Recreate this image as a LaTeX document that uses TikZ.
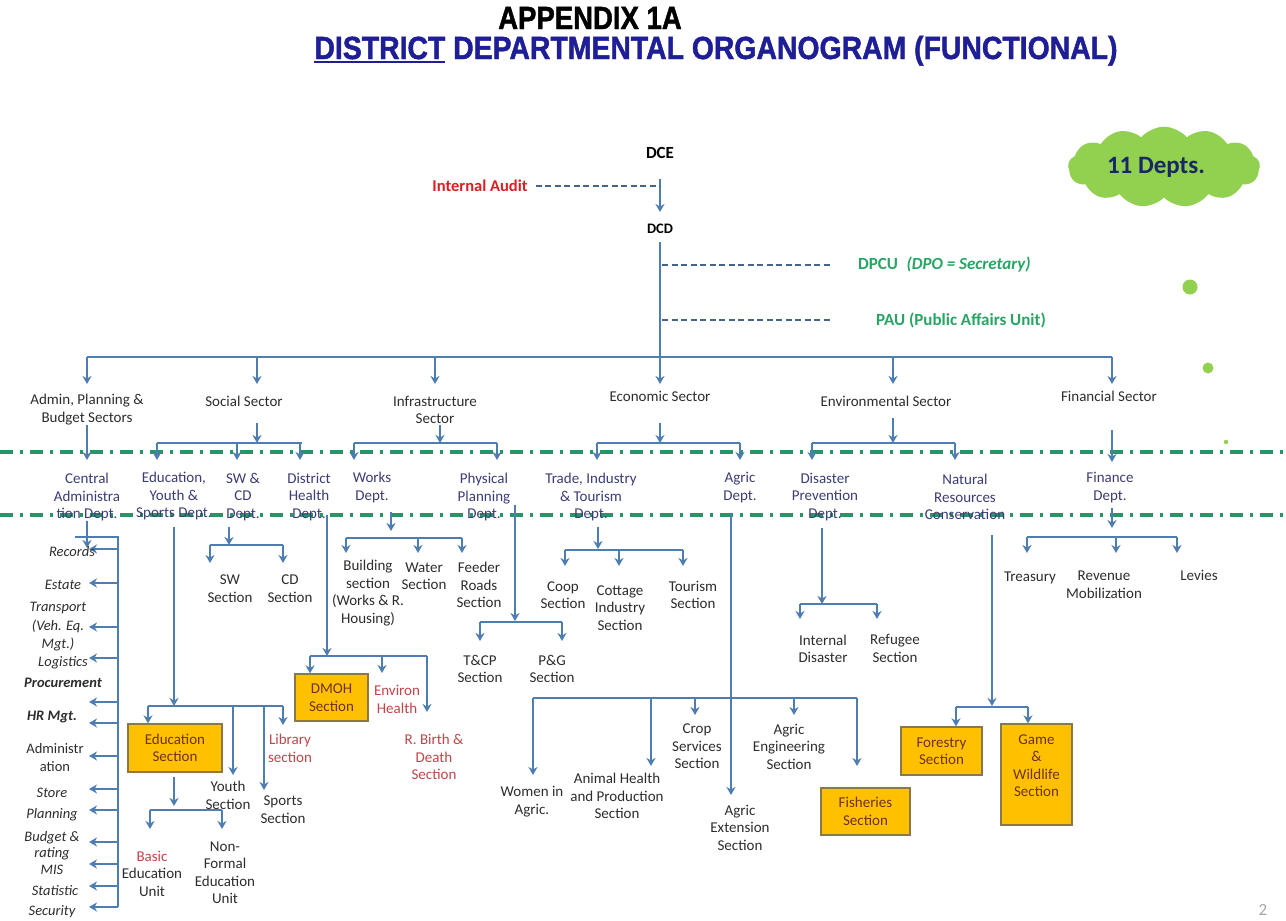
\documentclass[tikz,border=0pt]{standalone}
\usepackage{fontspec}
\usepackage{graphicx}
\setmainfont{Carlito}
\newfontfamily\titlefont[BoldFeatures={FakeBold=1.5}]{Liberation Sans}
\usetikzlibrary{arrows.meta,shapes.symbols}
\definecolor{conn}{RGB}{78,125,178}
\definecolor{dashc}{RGB}{70,100,135}
\definecolor{sepc}{RGB}{38,150,105}
\definecolor{txt}{RGB}{45,45,45}
\definecolor{deptc}{RGB}{60,60,120}
\definecolor{redc}{RGB}{192,70,75}
\definecolor{iared}{RGB}{220,30,35}
\definecolor{grn}{RGB}{40,165,100}
\definecolor{boxf}{RGB}{255,192,0}
\definecolor{boxb}{RGB}{140,120,70}
\definecolor{boxt}{RGB}{110,50,20}
\definecolor{titleblue}{RGB}{30,30,150}
\definecolor{cloudg}{RGB}{146,208,80}
\definecolor{cloudt}{RGB}{25,40,100}
\newcommand\thickul[1]{\vtop{\hbox{#1}\kern1.5pt\hrule height 2.4pt}}
\begin{document}
\begin{tikzpicture}[x=1pt,y=-1pt,
  lbl/.style={align=center, inner sep=0pt, font=\fontsize{15}{17.5}\selectfont, text=txt},
  dept/.style={lbl, text=deptc},
  redl/.style={lbl, text=redc},
  obox/.style={lbl, draw=boxb, fill=boxf, text=boxt, line width=1.3pt},
  lst/.style={lbl, font=\fontsize{14.5}{18.5}\selectfont\itshape},
  lstb/.style={lbl, font=\fontsize{14.5}{18.5}\selectfont\bfseries\itshape},
  lstu/.style={lbl, font=\fontsize{14.5}{18.5}\selectfont},
  cline/.style={draw=conn, line width=1.6pt},
  arr/.style={cline, -{Stealth[length=8pt,width=9pt,inset=2.5pt]}},
  dsh/.style={draw=dashc, line width=2pt, dash pattern=on 6pt off 3.5pt},
  sepl/.style={draw=sepc, line width=3.5pt, dash pattern=on 13pt off 7pt on 3pt off 7pt},
  ttl/.style={inner sep=0pt, anchor=base, font=\titlefont\bfseries\fontsize{32}{32}\selectfont},
  grnt/.style={inner sep=0pt, anchor=west, text=grn, font=\bfseries\fontsize{17}{17}\selectfont}
]
\fill[white] (0,0) rectangle (1286,921);
\useasboundingbox (0,0) rectangle (1286,921);

% ---------- title ----------
\node[ttl] (t1) at (590,29) {\scalebox{0.86}[1]{APPENDIX 1A}};
\node[ttl, text=titleblue] (t2) at (716,59) {\scalebox{0.887}[1]{\thickul{DISTRICT} DEPARTMENTAL ORGANOGRAM (FUNCTIONAL)}};

% ---------- separators ----------
\draw[sepl] (0,452) -- (1286,452);
\draw[sepl] (0,515) -- (1286,515);

% ---------- cloud and dots ----------
\node[cloud, cloud puffs=13, cloud puff arc=100, aspect=2.5, fill=cloudg, inner sep=0pt,
      minimum width=192pt, minimum height=78pt] (cloud) at (1164,167)
      {\textcolor{cloudt}{\bfseries\fontsize{25}{25}\selectfont 11 Depts.}\hspace*{16pt}};
\fill[cloudg] (1190,287) circle (7.5pt);
\fill[cloudg] (1208,368) circle (5.5pt);
\fill[cloudg] (1226,442) circle (2.2pt);
\node[text=black!35, font=\fontsize{17}{17}\selectfont, inner sep=0pt] (pg) at (1263,910) {2};

% ---------- top ----------
\node[font=\bfseries\fontsize{17}{17}\selectfont, inner sep=0pt] (dce) at (660,153) {DCE};
\node[font=\bfseries\fontsize{16.5}{17}\selectfont, text=iared, inner sep=0pt] (ia) at (480,186) {Internal Audit};
\node[font=\bfseries\fontsize{14.5}{17}\selectfont, inner sep=0pt] (dcd) at (660,229) {DCD};
\node[grnt] (dpcu) at (858,265) {DPCU\enspace\textit{(DPO = Secretary)}};
\node[grnt] (pau) at (876,320) {PAU (Public Affairs Unit)};
\coordinate (iaJ) at (660,186);
\coordinate (dpJ) at (662,265);
\coordinate (paJ) at (662,320);
\coordinate (b1M) at (660,357);
\coordinate (b1L) at (87,357);
\coordinate (b1R) at (1112,357);
\draw[arr, shorten <=20pt, shorten >=12pt] (dce) -- (dcd);
\draw[dsh, shorten <=8pt] (ia) -- (iaJ);
\draw[cline, shorten <=8pt] (dcd) -- (b1M);
\draw[dsh, shorten >=25pt] (dpJ) -- (dpcu.west);
\draw[dsh, shorten >=43pt] (paJ) -- (pau.west);
\draw[cline] (b1L) -- (b1R);

% ---------- sectors ----------
\node[lbl] (admin) at (87,409.5) {Admin, Planning \&\\Budget Sectors};
\node[lbl] (social) at (244,401) {Social Sector};
\node[lbl] (infra) at (435,410) {Infrastructure\\Sector};
\node[lbl] (econ) at (660,396) {Economic Sector};
\node[lbl] (env) at (886,401) {Environmental Sector};
\node[lbl] (fin) at (1109,396) {Financial Sector};
\foreach \x in {87,257,435,660,893,1112} \draw[arr] (b1L -| \x,0) -- (\x,384);

% ---------- departments ----------
\node[dept] (cad) at (87,497) {Central\\Administra\\tion Dept.};
\node[dept] (eys) at (174,496) {Education,\\Youth \&\\Sports Dept.};
\node[dept] (swcd) at (243,497) {SW \&\\CD\\Dept.};
\node[dept] (dhd) at (309,497) {District\\Health\\Dept.};
\node[dept] (works) at (372,487.5) {Works\\Dept.};
\node[dept] (ppd) at (484,497) {Physical\\Planning\\Dept.};
\node[dept] (tit) at (591,497) {Trade, Industry\\\& Tourism\\Dept.};
\node[dept] (agd) at (740,487.5) {Agric\\Dept.};
\node[dept] (dpd) at (825,497) {Disaster\\Prevention\\Dept.};
\node[dept] (nrc) at (965,497) {Natural\\Resources\\Conservation};
\node[dept] (find) at (1110,487.5) {Finance\\Dept.};

% sector -> department connectors
\draw[arr] (admin) -- (87,460);
\coordinate (soL) at (157,443); \coordinate (soR) at (302,443);
\draw[arr] (257,423) -- (257,443);
\draw[cline] (soL) -- (soR);
\foreach \x in {157,237,300} \draw[arr] (soL -| \x,0) -- (\x,460);
\coordinate (inL) at (354,443); \coordinate (inR) at (497,443);
\draw[arr] (440,425) -- (440,443);
\draw[cline] (inL) -- (inR);
\foreach \x in {354,497} \draw[arr] (inL -| \x,0) -- (\x,460);
\coordinate (ecL) at (597,443); \coordinate (ecR) at (740,443);
\draw[arr] (660,423) -- (660,443);
\draw[cline] (ecL) -- (ecR);
\foreach \x in {597,740} \draw[arr] (ecL -| \x,0) -- (\x,460);
\coordinate (enL) at (812,443); \coordinate (enR) at (955,443);
\draw[arr] (893,418) -- (893,443);
\draw[cline] (enL) -- (enR);
\foreach \x in {812,955} \draw[arr] (enL -| \x,0) -- (\x,460);
\draw[arr] (1112,430) -- (1112,462);

% ---------- central administration list ----------
\coordinate (caL) at (75,537); \coordinate (caR) at (118,537); \coordinate (caB) at (118,907);
\draw[cline] (caL) -- (caR) -- (caB);
\draw[arr] (cad) -- (87,548);
\foreach \y in {549,583,627,658,702,723,756,789,810,842,864,886,907} \draw[arr] (caR |- 0,\y) -- (89,\y);
\node[lst] (recs) at (72,552) {Records};
\node[lst] (estate) at (63,585) {Estate};
\node[lst] (transp) at (58,627) {Transport\\(Veh. Eq.\\Mgt.)};
\node[lst] (logis) at (63,663) {Logistics};
\node[lstb] (procu) at (63,683) {Procurement};
\node[lstb] (hrm) at (52,717) {HR Mgt.};
\node[lstu] (admn) at (55,757.5) {Administr\\ation};
\node[lst] (store) at (52,793) {Store};
\node[lst] (plann) at (52,815) {Planning};
\node[lst, font=\fontsize{14.5}{16.5}\selectfont\itshape] (budg) at (52,853) {Budget \&\\rating\\MIS};
\node[lst] (stat) at (55,891) {Statistic};
\node[lst] (secu) at (52,912) {Security};

% ---------- education ----------
\node[obox, minimum width=94pt, minimum height=48pt] (edu) at (175,748) {Education\\Section};
\node[redl] (lib) at (290,748.5) {Library\\section};
\node[lbl] (youth) at (228,795.5) {Youth\\Section};
\node[lbl] (sports) at (283,809.5) {Sports\\Section};
\node[lbl] (basic) at (152,873.5) {\textcolor{redc}{Basic}\\Education\\Unit};
\node[lbl] (nfe) at (225,872.5) {Non-\\Formal\\Education\\Unit};
\coordinate (edJ) at (174,706); \coordinate (edL) at (148,706); \coordinate (edR) at (283,706);
\draw[arr] (174,527) -- (edJ);
\draw[cline] (edL) -- (edR);
\draw[arr] (edL) -- (edL |- edu.north);
\draw[arr] (edR) -- (283,725);
\draw[arr] (edL -| 264,0) -- (264,790);
\draw[arr] (edL -| 233,0) -- (233,775);
\coordinate (ebL) at (150,810); \coordinate (ebR) at (222,810);
\draw[arr] (174,777) -- (174,806);
\draw[cline] (ebL) -- (ebR);
\draw[arr] (ebL) -- (150,829);
\draw[arr] (ebR) -- (222,829);

% ---------- SW & CD ----------
\node[lbl] (sws) at (230,588.5) {SW\\Section};
\node[lbl] (cds) at (290,588.5) {CD\\Section};
\coordinate (swL) at (210,545); \coordinate (swR) at (283,545);
\draw[arr] (229,527) -- (229,545);
\draw[cline] (swL) -- (swR);
\draw[arr] (swL) -- (210,563);
\draw[arr] (swR) -- (283,563);

% ---------- district health ----------
\node[obox, minimum width=73pt, minimum height=47pt] (dmoh) at (331.5,697.5) {DMOH\\Section};
\node[redl] (envh) at (397,699.5) {Environ\\Health};
\node[redl] (rbd) at (434,757) {R. Birth \&\\Death\\Section};
\coordinate (dhL) at (310,656); \coordinate (dhR) at (427,656);
\draw[arr] (327,515) -- (327,656);
\draw[cline] (dhL) -- (dhR);
\draw[arr] (dhL) -- (dhL |- dmoh.north);
\draw[arr] (dhL -| 382,0) -- (382,673);
\draw[arr] (dhR) -- (427,712);

% ---------- works ----------
\node[lbl] (bld) at (368,593) {Building\\section\\(Works \& R.\\Housing)};
\node[lbl] (wat) at (424,576) {Water\\Section};
\node[lbl] (frs) at (479,585) {Feeder\\Roads\\Section};
\coordinate (wkL) at (346,538); \coordinate (wkR) at (462,538);
\draw[arr] (391,512) -- (391,531);
\draw[cline] (wkL) -- (wkR);
\foreach \x in {346,418,462} \draw[arr] (wkL -| \x,0) -- (\x,553);

% ---------- physical planning ----------
\node[lbl] (tcp) at (480,669) {T\&CP\\Section};
\node[lbl] (pgs) at (552,669) {P\&G\\Section};
\coordinate (ppL) at (480,622); \coordinate (ppR) at (562,622);
\draw[arr] (515,505) -- (515,621);
\draw[cline] (ppL) -- (ppR);
\draw[arr] (ppL) -- (480,641);
\draw[arr] (ppR) -- (562,641);

% ---------- trade ----------
\node[lbl] (coop) at (563,595) {Coop\\Section};
\node[lbl] (cott) at (620,608) {Cottage\\Industry\\Section};
\node[lbl] (tour) at (693,595) {Tourism\\Section};
\coordinate (trL) at (565,550); \coordinate (trR) at (683,550);
\draw[arr] (598,527) -- (598,549);
\draw[cline] (trL) -- (trR);
\foreach \x in {565,619,683} \draw[arr] (trL -| \x,0) -- (\x,566);

% ---------- agric ----------
\node[lbl] (wom) at (532,801.5) {Women in\\Agric.};
\node[lbl] (ahp) at (617,796) {Animal Health\\and Production\\Section};
\node[lbl] (crop) at (697,746.5) {Crop\\Services\\Section};
\node[lbl] (aeng) at (789,746.5) {Agric\\Engineering\\Section};
\node[lbl] (aext) at (740,827.5) {Agric\\Extension\\Section};
\node[obox, minimum width=89pt, minimum height=47pt] (fish) at (865.5,811.5) {Fisheries\\Section};
\coordinate (agL) at (533,698); \coordinate (agR) at (857,698);
\draw[arr] (731,513) -- (731,795);
\draw[cline] (agL) -- (agR);
\draw[arr] (agL) -- (533,775);
\draw[arr] (agL -| 651,0) -- (651,766);
\draw[arr] (agL -| 695,0) -- (695,715);
\draw[arr] (agL -| 794,0) -- (794,715);
\draw[arr] (agR) -- (857,766);

% ---------- disaster ----------
\node[lbl] (intd) at (823,649) {Internal\\Disaster};
\node[lbl] (refu) at (895,648.5) {Refugee\\Section};
\coordinate (dpL) at (800,604); \coordinate (dpR) at (877,604);
\draw[arr] (822,528) -- (822,604);
\draw[cline] (dpL) -- (dpR);
\draw[arr] (dpL) -- (800,619);
\draw[arr] (dpR) -- (877,619);

% ---------- natural resources ----------
\node[obox, minimum width=81pt, minimum height=48pt] (fore) at (941.5,751) {Forestry\\Section};
\node[obox, minimum width=71pt, minimum height=101pt] (game) at (1036.5,774.5) {Game\\\&\\Wildlife\\Section\\\mbox{}};
\coordinate (nrL) at (956,707); \coordinate (nrR) at (1028,707);
\draw[arr] (992,535) -- (992,706);
\draw[cline] (nrL) -- (nrR);
\draw[arr] (nrL) -- (nrL |- fore.north);
\draw[arr] (nrR) -- (nrR |- game.north);

% ---------- finance ----------
\node[lbl] (treas) at (1030,578) {Treasury};
\node[lbl] (revm) at (1104,584.5) {Revenue\\Mobilization};
\node[lbl] (lev) at (1199,575) {Levies};
\coordinate (fiL) at (1027,537); \coordinate (fiR) at (1177,537);
\draw[arr] (1112,508) -- (1112,528);
\draw[cline] (fiL) -- (fiR);
\foreach \x in {1027,1116,1177} \draw[arr] (fiL -| \x,0) -- (\x,553);
\end{tikzpicture}
\end{document}
